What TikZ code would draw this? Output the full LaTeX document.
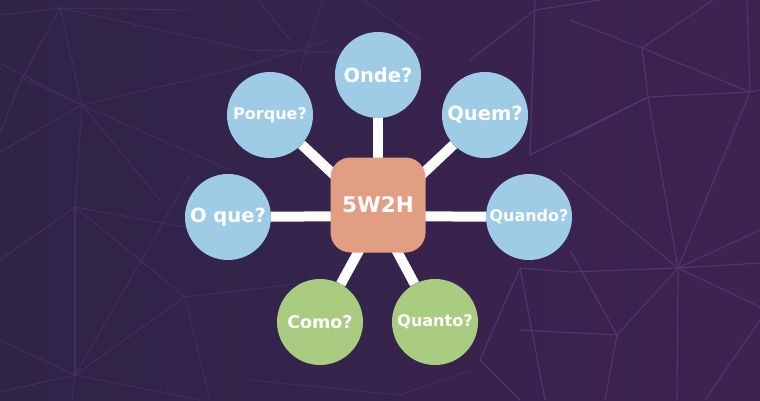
\documentclass[tikz,border=0pt]{standalone}
\usepackage{fontspec}
\setmainfont{DejaVu Sans}
\usepackage{tikz}
\usetikzlibrary{shapes,backgrounds}
\definecolor{bgleft}{RGB}{46,36,72}
\definecolor{bgright}{RGB}{62,35,80}
\definecolor{meshl}{RGB}{66,46,88}
\definecolor{meshr}{RGB}{82,52,114}
\definecolor{qblue}{RGB}{158,203,230}
\definecolor{qgreen}{RGB}{170,204,128}
\definecolor{qsalmon}{RGB}{226,158,130}
\tikzset{
  qnode/.style={circle, fill=#1, minimum size=86pt, inner sep=0pt, text=white},
  big/.style={font=\bfseries\fontsize{19.5}{20}\selectfont},
  small/.style={font=\bfseries\fontsize{16}{16}\selectfont},
  hubnode/.style={rectangle, rounded corners=20pt, fill=qsalmon, minimum size=95pt,
    inner sep=0pt, text=white, font=\bfseries\fontsize{21.5}{22}\selectfont},
  link/.style={white, line width=10pt},
  mesh/.style={line width=1.1pt}
}

\begin{document}
\begin{tikzpicture}[x=1pt,y=-1pt]
\node[hubnode] (w2h) at (378,205) {5W2H};
\node[qnode=qblue, big] (onde) at (378,75) {Onde?};
\node[qnode=qblue, small] (porque) at (270,115) {Porque?};
\node[qnode=qblue, big] (quem) at (485,115) {Quem?};
\node[qnode=qblue, big] (oque) at (228,217) {O que?};
\node[qnode=qblue, small] (quando) at (529,217) {Quando?};
\node[qnode=qgreen, small, font=\bfseries\fontsize{17.5}{18}\selectfont] (como) at (320,322) {Como?};
\node[qnode=qgreen, small] (quanto) at (435,322) {Quanto?};
\coordinate (hub) at (378,216);

\begin{pgfonlayer}{background}
\shade[left color=bgleft, right color=bgright] (0,0) rectangle (760,400);
\useasboundingbox (0,0) rectangle (760,400);
% left part of the mesh
\draw[mesh, meshl] (0,15) -- (60,8) -- (190,10);
\draw[mesh, meshl] (60,8) -- (82,105) -- (0,63);
\draw[mesh, meshl] (60,8) -- (22,78) -- (0,133);
\draw[mesh, meshl] (60,8) -- (250,50) -- (380,53);
\draw[mesh, meshl] (82,105) -- (0,152);
\draw[mesh, meshl] (82,105) -- (240,68) -- (330,40);
\draw[mesh, meshl] (82,105) -- (230,170);
\draw[mesh, meshl] (82,105) -- (75,207);
\draw[mesh, meshl] (82,105) -- (160,200);
\draw[mesh, meshl] (22,78) -- (82,105);
\draw[mesh, meshl] (75,207) -- (75,375);
\draw[mesh, meshl] (75,207) -- (0,260);
\draw[mesh, meshl] (75,207) -- (185,297) -- (330,280);
\draw[mesh, meshl] (75,207) -- (200,230);
\draw[mesh, meshl] (140,263) -- (75,375) -- (185,297);
\draw[mesh, meshl] (140,263) -- (190,175);
\draw[mesh, meshl] (75,375) -- (0,340);
\draw[mesh, meshl] (75,375) -- (0,392);
\draw[mesh, meshl] (75,375) -- (72,400);
\draw[mesh, meshl] (75,375) -- (200,400);
\draw[mesh, meshl] (185,297) -- (210,400);
\draw[mesh, meshl] (258,0) -- (290,40);
\draw[mesh, meshl] (323,0) -- (300,70);
\draw[mesh, meshl] (363,0) -- (420,40);
\draw[mesh, meshl] (250,380) -- (400,395) -- (470,370);
% right part of the mesh
\draw[mesh, meshr] (535,0) -- (530,155) -- (648,97);
\draw[mesh, meshr] (535,10) -- (600,0);
\draw[mesh, meshr] (535,10) -- (470,60);
\draw[mesh, meshr] (570,20) -- (642,48) -- (713,0);
\draw[mesh, meshr] (642,48) -- (750,92) -- (747,0);
\draw[mesh, meshr] (642,48) -- (648,97) -- (750,92) -- (760,90);
\draw[mesh, meshr] (648,97) -- (678,268);
\draw[mesh, meshr] (750,92) -- (678,268);
\draw[mesh, meshr] (648,97) -- (570,137);
\draw[mesh, meshr] (678,268) -- (570,272) -- (520,268);
\draw[mesh, meshr] (678,268) -- (560,170);
\draw[mesh, meshr] (678,268) -- (760,230);
\draw[mesh, meshr] (678,268) -- (760,263);
\draw[mesh, meshr] (678,268) -- (760,307);
\draw[mesh, meshr] (678,268) -- (677,400);
\draw[mesh, meshr] (678,268) -- (617,335);
\draw[mesh, meshr] (617,335) -- (520,330);
\draw[mesh, meshr] (617,335) -- (605,400);
\draw[mesh, meshr] (617,335) -- (570,250);
\draw[mesh, meshr] (705,400) -- (760,320);
\draw[mesh, meshr] (520,268) -- (545,400);
\draw[mesh, meshr] (520,268) -- (480,360) -- (520,400);
% links to the centre
\draw[link] (onde) -- (hub);
\draw[link] (porque) -- (hub);
\draw[link] (quem) -- (hub);
\draw[link] (oque) -- (hub);
\draw[link] (quando) -- (hub);
\draw[link] (como) -- (hub);
\draw[link] (quanto) -- (hub);
\end{pgfonlayer}
\end{tikzpicture}
\end{document}
